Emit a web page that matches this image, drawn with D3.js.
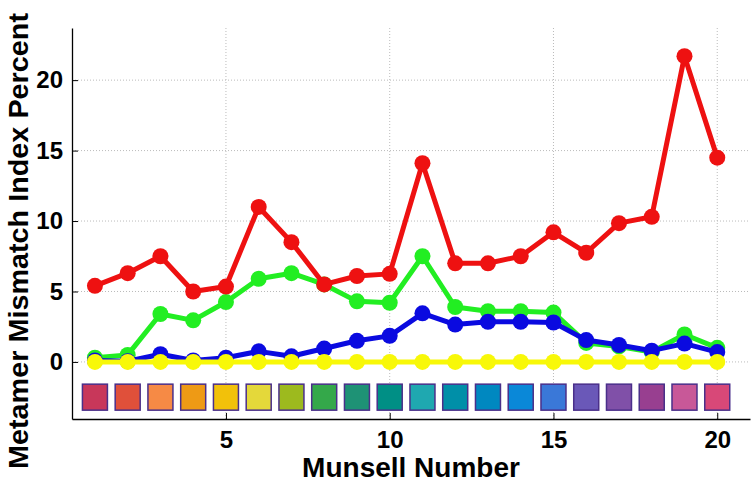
<!DOCTYPE html>
<html><head><meta charset="utf-8">
<script src="https://cdn.jsdelivr.net/npm/d3@7"></script>
<style>body{margin:0;background:#fff}svg{display:block}</style>
</head><body>
<svg id="c" width="753" height="483"></svg>
<script>
const munsell = d3.range(1, 21);
const redVals   = [5.4,6.3,7.5,5.0,5.35,11.0,8.5,5.5,6.1,6.25,14.1,7.0,7.0,7.5,9.2,7.75,9.85,10.3,21.7,14.5];
const greenVals = [0.3,0.5,3.4,2.95,4.25,5.9,6.3,5.5,4.3,4.2,7.5,3.9,3.6,3.6,3.5,1.35,1.1,0.7,1.95,1.0];
const blueVals  = [0.1,0.05,0.55,0.1,0.3,0.75,0.4,0.95,1.5,1.85,3.45,2.65,2.85,2.85,2.8,1.55,1.2,0.8,1.3,0.7];
const yellowVals= [0,0,0,0,0,0,0,0,0,0,0,0,0,0,0,0,0,0,0,0];
const swatchColors = ["#c8375a","#e0503a","#f68a45","#ee9a15","#f2c10a","#e4d83a","#9dba1e","#34a84a","#1e9275","#008f85",
                      "#1fa8b0","#008fa8","#0088c0","#0a88d8","#3a78d8","#6a58b8","#8050a8","#983f90","#c85898","#d84878"];
const xTicks = [5,10,15,20];
const yTicks = [0,5,10,15,20];
const swatchLevel = -2.5;

const svg = d3.select("#c");
const L = 72, R = 750, T = 28, B = 419;
const x = d3.scaleLinear().domain([0.3, 21]).range([L, R]);
const y = d3.scaleLinear().domain([-4.05, 23.7]).range([B, T]);
const FONT = "Liberation Sans, Arial, sans-serif";

// grid
const g = svg.append("g");
g.selectAll("line.vg").data(xTicks).join("line")
  .attr("x1", d => x(d)).attr("x2", d => x(d)).attr("y1", T).attr("y2", B)
  .attr("stroke", "#bbb").attr("stroke-width", 1).attr("stroke-dasharray", "1,2");
g.selectAll("line.hg").data(yTicks).join("line")
  .attr("x1", L).attr("x2", R).attr("y1", d => y(d)).attr("y2", d => y(d))
  .attr("stroke", "#bbb").attr("stroke-width", 1).attr("stroke-dasharray", "1,2");

// axes
const xAxis = d3.axisBottom(x).tickValues(xTicks).tickSizeInner(-6).tickSizeOuter(0).tickPadding(12);
const yAxis = d3.axisLeft(y).tickValues(yTicks).tickSizeInner(-6).tickSizeOuter(0).tickPadding(9);
const gx = svg.append("g").attr("transform", `translate(0,${B})`).call(xAxis);
const gy = svg.append("g").attr("transform", `translate(${L},0)`).call(yAxis);
[gx, gy].forEach(a => {
  a.select(".domain").attr("stroke", "#000").attr("stroke-width", 1.3);
  a.selectAll(".tick line").attr("stroke", "#000").attr("stroke-width", 1);
  a.selectAll(".tick text").attr("font-family", FONT)
    .attr("font-weight", "bold").attr("font-size", 24).attr("fill", "#000");
});
gx.selectAll(".tick text").attr("dy", "0.71em");

// swatches
svg.append("g").selectAll("rect").data(munsell).join("rect")
  .attr("x", d => x(d) - 12.5).attr("y", y(swatchLevel) - 13).attr("width", 25).attr("height", 26)
  .attr("fill", (d, i) => swatchColors[i]).attr("stroke", "#4a2f8a").attr("stroke-width", 1.5);

// series
const series = [
  {vals: greenVals, color: "#22ee22"},
  {vals: redVals, color: "#ee1111"},
  {vals: blueVals, color: "#0a0ae0"},
  {vals: yellowVals, color: "#f8f808"}
];
const line = d3.line().x((d, i) => x(munsell[i])).y(d => y(d));
series.forEach(s => {
  const sg = svg.append("g");
  sg.append("path").datum(s.vals).attr("d", line).attr("fill", "none")
    .attr("stroke", s.color).attr("stroke-width", 5).attr("stroke-linejoin", "round");
  sg.selectAll("circle").data(s.vals).join("circle")
    .attr("cx", (d, i) => x(munsell[i])).attr("cy", d => y(d)).attr("r", 8)
    .attr("fill", s.color);
});

// titles
svg.append("text").attr("x", 411).attr("y", 477).attr("text-anchor", "middle")
  .attr("font-family", FONT).attr("font-weight", "bold").attr("font-size", 28)
  .text("Munsell Number");
svg.append("text").attr("transform", `translate(28,${241}) rotate(-90)`).attr("text-anchor", "middle")
  .attr("font-family", FONT).attr("font-weight", "bold").attr("font-size", 28)
  .attr("textLength", 456).attr("lengthAdjust", "spacingAndGlyphs")
  .text("Metamer Mismatch Index Percent");
</script>
</body></html>
